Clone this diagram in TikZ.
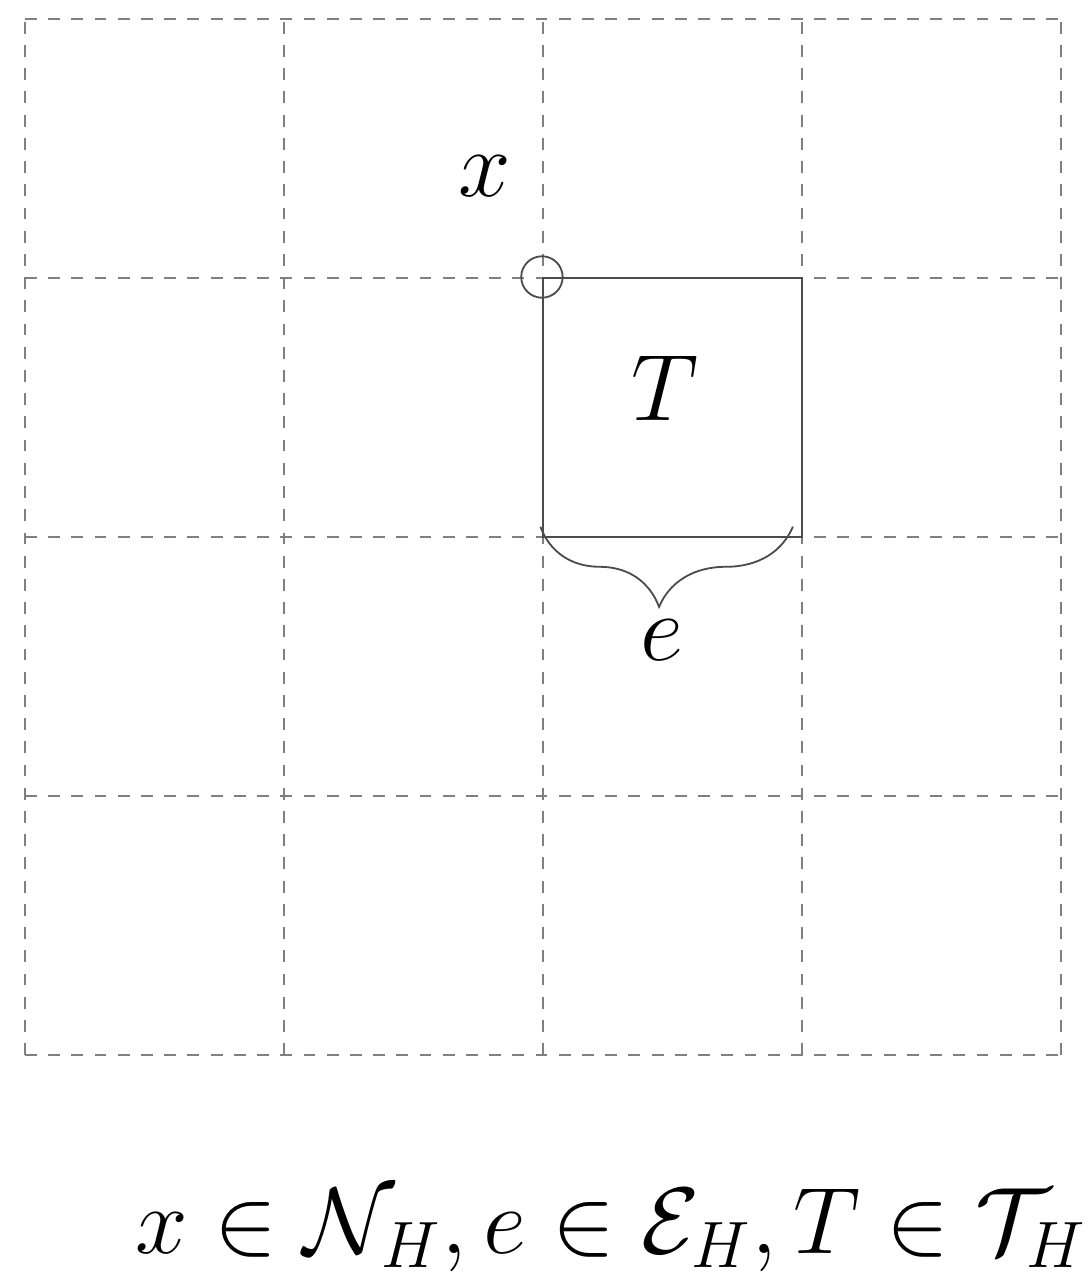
\documentclass[tikz,border=0pt]{standalone}
\usetikzlibrary{decorations.pathreplacing}
\begin{document}
\begin{tikzpicture}[
        gridline/.style={gray, line width=0.45pt, dash pattern=on 2.6pt off 2.5pt},
        cell/.style={draw=black!70, line width=0.45pt},
        vertex/.style={circle, draw=black!70, line width=0.4pt,
                       minimum size=0.32cm, inner sep=0pt},
        lbl/.style={font=\huge, inner sep=0pt},
        bracestyle/.style={draw=black!70, line width=0.4pt, decorate,
                           decoration={brace, mirror, amplitude=0.62cm, aspect=0.47}}
      ]
        \useasboundingbox (-0.193,-1.699) rectangle (8.224,8.147);

        % background mesh
        \draw[gridline, step=2cm] (0,0) grid (8,8);

        % element T with its node x and edge e
        \node[cell, minimum size=2cm, inner sep=0pt] (elem) at (5,5) {};
        \node[vertex] (node) at (elem.north west) {};
        \node[lbl, anchor=base] (xlbl) at (3.55,6.63) {$x$};
        \node[lbl, anchor=base] (Tlbl) at (4.94,4.90) {$T$};

        \coordinate (bl) at (3.98,4.08);
        \coordinate (br) at (5.93,4.08);
        \draw[bracestyle] (bl) -- (br);
        \node[lbl, anchor=base] (elbl) at (4.92,3.05) {$e$};

        \node[lbl, anchor=base west] (legend) at (0.85,-1.53)
          {$x \in \mathcal{N}_H, e \in \mathcal{E}_H, T \in \mathcal{T}_H$};
      \end{tikzpicture}
\end{document}
